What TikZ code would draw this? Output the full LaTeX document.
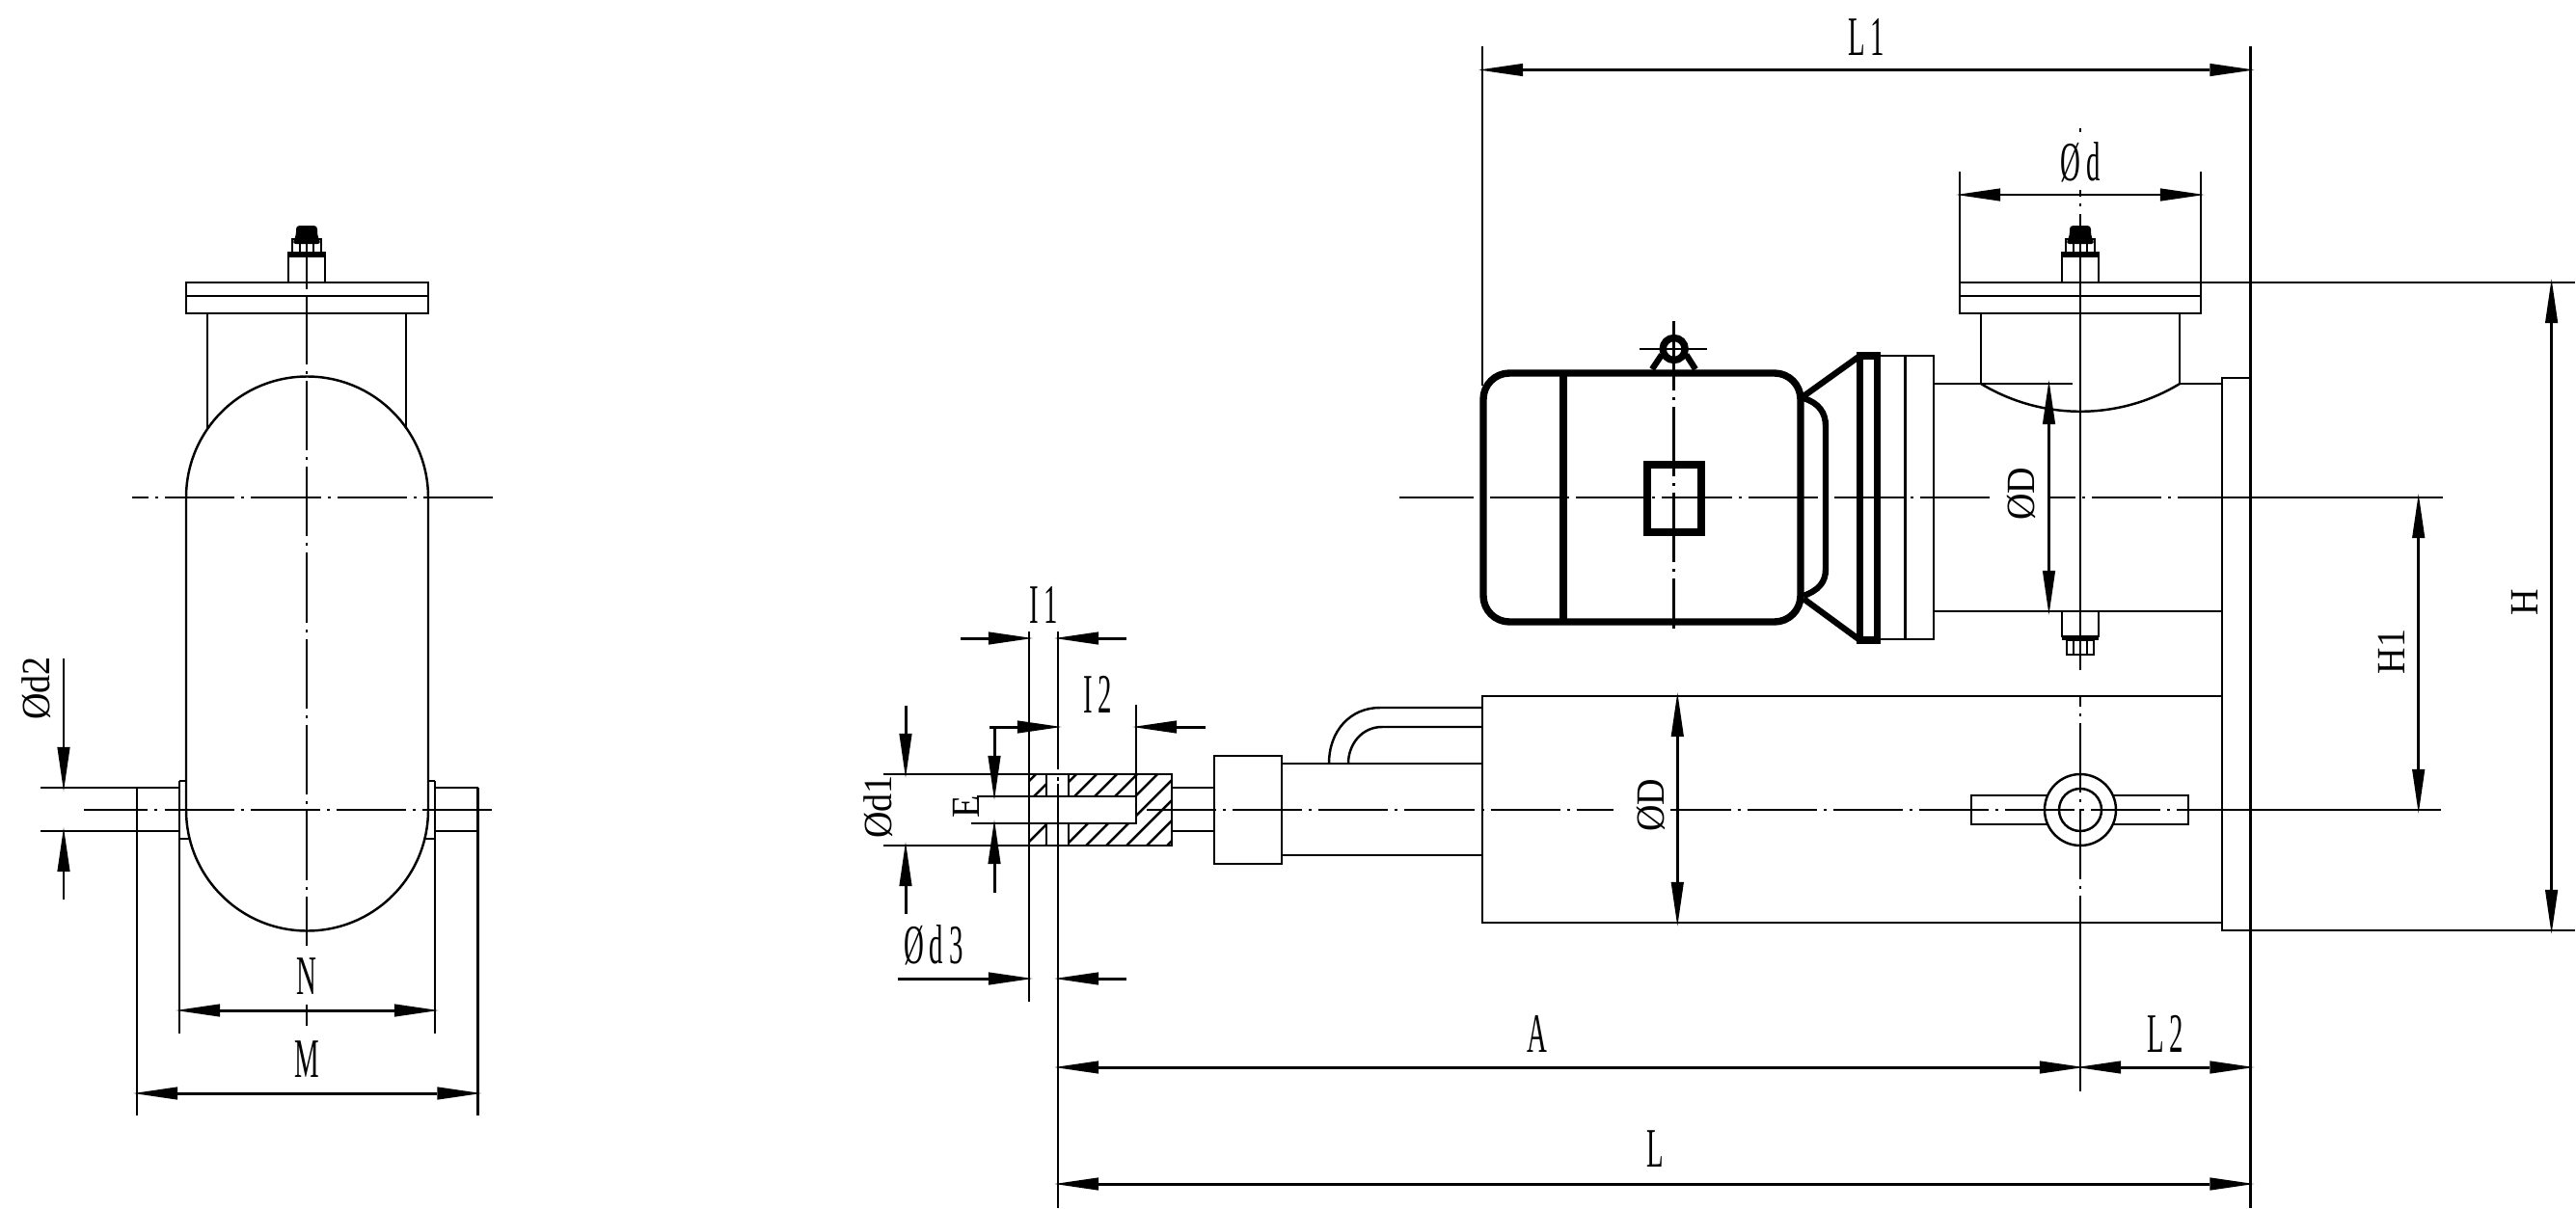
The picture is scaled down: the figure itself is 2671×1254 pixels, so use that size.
\documentclass[tikz,border=0pt]{standalone}
\usepackage{fontspec}
\usetikzlibrary{arrows.meta}
\newfontfamily\dimfont[LetterSpace=20]{Liberation Serif}
\newfontfamily\rotfont{Liberation Serif}
\begin{document}
\begin{tikzpicture}[x=0.01cm, y=0.01cm, line width=0.7pt, >={Triangle[length=13pt,width=3.8pt,line width=0pt]},
        every node/.style={inner sep=0pt},
        heavyline/.style={line width=2.1pt},
        axisline/.style={dash pattern=on 20.5pt off 2pt on 0.85pt off 2pt},
        dimboth/.style={line width=0.85pt,<->,shorten >=-1pt,shorten <=-1pt},
        dimend/.style={line width=0.85pt,->,shorten >=-1pt},
        dimlabel/.style={font=\dimfont\fontsize{16.4}{16.4}\selectfont,xscale=0.5},
        rotlabel/.style={font=\rotfont\fontsize{16.4}{16.4}\selectfont,rotate=90,xscale=0.66,yscale=0.72}]
            \useasboundingbox (0,0) rectangle (2671,-1254);
            \draw (193,-293) rectangle (444,-325);
            \draw (193,-307) -- (444,-307);
            \draw (215,-325) -- (215,-445);
            \draw (421,-325) -- (421,-445);
            \draw (193,-516) arc (180:0:125.5) -- (444,-840) arc (0:-180:125.5) -- cycle;
            \draw (299,-262) rectangle (337,-293);
            \fill [black] (299,-262) rectangle (337,-267);
            \draw (303,-248) rectangle (333,-262);
            \draw (311,-248) -- (311,-262);
            \draw (325,-248) -- (325,-262);
            \fill [black, rounded corners=1pt] (303,-253) -- (307,-244) -- (307,-234) -- (329,-234) -- (329,-244) -- (333,-253) -- cycle;
            \draw (42,-817) -- (186,-817);
            \draw (42,-862) -- (186,-862);
            \draw (451,-817) -- (495.5,-817);
            \draw (451,-862) -- (495.5,-862);
            \draw (186,-810) -- (193,-810);
            \draw (186,-870) -- (197,-870);
            \draw (444,-810) -- (451,-810);
            \draw (440,-870) -- (451,-870);
            \draw (186,-810) -- (186,-1072);
            \draw (451,-810) -- (451,-1072);
            \draw (142,-817) -- (142,-1157);
            \draw (495.5,-817) -- (495.5,-1157);
            \draw [axisline, dash phase=15.6pt] (137,-516) -- (440,-516);
            \draw (440,-516) -- (511,-516);
            \draw [axisline, dash phase=1.6pt] (87,-840) -- (440,-840);
            \draw (440,-840) -- (510,-840);
            \draw (318,-235) -- (318,-300);
            \draw [axisline] (318,-306) -- (318,-981);
            \draw (318,-1042) -- (318,-1064);
            \draw [dimboth] (186,-1048) -- (451,-1048);
            \draw [dimboth] (142,-1134) -- (495.5,-1134);
            \draw [dimend] (66,-683) -- (66,-817);
            \draw [dimend] (66,-933) -- (66,-862);
            \node [dimlabel] (labN) at (318,-1013) {N};
            \node [dimlabel] (labM) at (318,-1099) {M};
            \node [rotlabel] (labdtwo) at (38,-714) {Ød2};
            \draw (916,-803) -- (1215,-803) -- (1215,-877) -- (916,-877);
            \draw (1013,-826) -- (1178,-826) -- (1178,-854) -- (1007,-854);
            \draw (1085,-803) -- (1085,-826);
            \draw (1085,-854) -- (1085,-877);
            \draw (1108,-803) -- (1108,-826);
            \draw (1108,-854) -- (1108,-877);
            \begin{scope}
                \clip (1067,-803) rectangle (1085,-826) (1067,-854) rectangle (1085,-877)
                    (1108,-803) -- (1215,-803) -- (1215,-877) -- (1108,-877) -- (1108,-854) -- (1178,-854) -- (1178,-826) -- (1108,-826) -- cycle;
                \draw (1000,-877) -- (1074,-803);
                \draw (1021,-877) -- (1095,-803);
                \draw (1042,-877) -- (1116,-803);
                \draw (1063,-877) -- (1137,-803);
                \draw (1084,-877) -- (1158,-803);
                \draw (1105,-877) -- (1179,-803);
                \draw (1126,-877) -- (1200,-803);
                \draw (1147,-877) -- (1221,-803);
                \draw (1168,-877) -- (1242,-803);
                \draw (1189,-877) -- (1263,-803);
                \draw (1210,-877) -- (1284,-803);
            \end{scope}
            \draw (1215,-817) -- (1259,-817);
            \draw (1215,-862) -- (1259,-862);
            \draw (1259,-784) rectangle (1329,-896);
            \draw (1329,-792) -- (1537,-792);
            \draw (1329,-887) -- (1537,-887);
            \draw (1378,-792) .. controls (1378,-758) and (1400,-734) .. (1431,-734) -- (1537,-734);
            \draw (1398,-792) .. controls (1398,-772) and (1412,-754) .. (1433,-754) -- (1537,-754);
            \draw (1537,-722) rectangle (2304,-957);
            \draw (2304,-392) rectangle (2333.5,-965);
            \draw (2044,-825) rectangle (2269,-855);
            \draw [fill=white] (2157,-840) circle (37);
            \draw (2157,-840) circle (22);
            \draw [heavyline, rounded corners=7.7pt] (1538,-387) rectangle (1867,-645);
            \draw [heavyline] (1621,-387) -- (1621,-645);
            \draw [heavyline] (1708,-482) rectangle (1764,-552);
            \draw [heavyline] (1735.7,-362) circle (11.5);
            \draw [line width=1.8pt] (1713,-383) -- (1723,-368);
            \draw [line width=1.8pt] (1758,-383) -- (1748.5,-368);
            \draw (1700,-362) -- (1770,-362);
            \draw [line width=1.8pt] (1870,-411) -- (1928.6,-369);
            \draw [line width=1.8pt] (1870,-621) -- (1928.6,-664);
            \draw [line width=1.8pt] (1870,-413) .. controls (1886,-418) and (1893,-428) .. (1893,-442) -- (1893,-590) .. controls (1893,-604) and (1886,-612) .. (1870,-618);
            \draw [heavyline] (1928.6,-369) rectangle (1946.4,-664);
            \draw (1949,-369) rectangle (2005,-663);
            \draw (1975.5,-369) -- (1975.5,-663);
            \draw (2005,-398) -- (2149,-398);
            \draw (2260,-398) -- (2304,-398);
            \draw (2005,-634) -- (2304,-634);
            \draw (2032,-293) rectangle (2282,-325);
            \draw (2032,-307) -- (2282,-307);
            \draw (2054,-325) -- (2054,-398);
            \draw (2260,-325) -- (2260,-398);
            \draw (2054,-398) arc (238.8:301.2:199);
            \draw (2138,-262) rectangle (2176,-293);
            \fill [black] (2138,-262) rectangle (2176,-267);
            \draw (2142,-248) rectangle (2172,-262);
            \draw (2150,-248) -- (2150,-262);
            \draw (2164,-248) -- (2164,-262);
            \fill [black, rounded corners=1pt] (2142,-253) -- (2146,-244) -- (2146,-234) -- (2168,-234) -- (2168,-244) -- (2172,-253) -- cycle;
            \draw (2138,-634) rectangle (2176,-660);
            \fill [black] (2138,-660) rectangle (2176,-664);
            \draw (2143,-664) rectangle (2171,-679);
            \draw (2150,-664) -- (2150,-679);
            \draw (2164,-664) -- (2164,-679);
            \draw (1451,-516) -- (1456,-516);
            \draw [axisline] (1456,-516) -- (2064,-516);
            \draw [axisline, dash phase=12.5pt] (2124,-516) -- (2330,-516);
            \draw (2330,-516) -- (2533,-516);
            \draw [axisline] (1189,-840) -- (1673,-840);
            \draw [axisline, dash phase=2.7pt] (1732,-840) -- (2269,-840);
            \draw (2269,-840) -- (2531,-840);
            \draw [axisline] (1735.7,-333) -- (1735.7,-652);
            \draw (2157,-133) -- (2157,-137);
            \draw (2157,-197) -- (2157,-204);
            \draw (2157,-211) -- (2157,-214);
            \draw (2157,-222) -- (2157,-695);
            \draw [axisline, dash phase=17.6pt] (2157,-723) -- (2157,-1000);
            \draw (2157,-1000) -- (2157,-1132);
            \draw (1537,-48) -- (1537,-400);
            \draw (2333.5,-48) -- (2333.5,-1253);
            \draw (2032,-178) -- (2032,-293);
            \draw (2282,-178) -- (2282,-293);
            \draw (2282,-293) -- (2670,-293);
            \draw (2333.5,-965) -- (2670,-965);
            \draw (1067,-655) -- (1067,-1039);
            \draw (1097,-655) -- (1097,-798);
            \draw (1097,-806) -- (1097,-810);
            \draw (1097,-813) -- (1097,-1253);
            \draw (1178,-731) -- (1178,-826);
            \draw [dimboth] (1537,-72.5) -- (2333.5,-72.5);
            \draw [dimboth] (2032,-202) -- (2282,-202);
            \draw [dimboth] (2124.5,-398) -- (2124.5,-634);
            \draw [dimboth] (1739.3,-722) -- (1739.3,-957);
            \draw [dimboth] (2507.7,-516) -- (2507.7,-840);
            \draw [dimboth] (2645.6,-293) -- (2645.6,-965);
            \draw [dimboth] (1097,-1107) -- (2157,-1107);
            \draw [dimboth] (2157,-1107) -- (2333.5,-1107);
            \draw [dimboth] (1097,-1228) -- (2333.5,-1228);
            \draw [dimend] (996,-662) -- (1067,-662);
            \draw [dimend] (1168,-662) -- (1097,-662);
            \draw [dimend] (1026,-754) -- (1097,-754);
            \draw [dimend] (1250,-754) -- (1178,-754);
            \draw [dimend] (931,-1015) -- (1067,-1015);
            \draw [dimend] (1168,-1015) -- (1097,-1015);
            \draw [dimend] (939,-732) -- (939,-803);
            \draw [dimend] (939,-948) -- (939,-877);
            \draw [dimend] (1031,-754) -- (1031,-826);
            \draw [dimend] (1031,-926) -- (1031,-854);
            \node [dimlabel] (labLone) at (1935,-38) {L1};
            \node [dimlabel] (labd) at (2157,-168) {Ød};
            \node [dimlabel] (labIone) at (1082,-627) {I1};
            \node [dimlabel] (labItwo) at (1138,-720) {I2};
            \node [dimlabel] (labdthree) at (968,-980) {Ød3};
            \node [dimlabel] (labA) at (1594,-1072) {A};
            \node [dimlabel] (labLtwo) at (2245,-1072) {L2};
            \node [dimlabel] (labL) at (1716,-1192) {L};
            \node [rotlabel] (labdone) at (911,-837) {Ød1};
            \node [rotlabel] (labE) at (1002,-837) {E};
            \node [rotlabel] (labDtop) at (2096,-512) {ØD};
            \node [rotlabel] (labDlow) at (1712,-835) {ØD};
            \node [rotlabel] (labHone) at (2480,-676) {H1};
            \node [rotlabel] (labH) at (2618,-625) {H};
        \end{tikzpicture}
\end{document}
